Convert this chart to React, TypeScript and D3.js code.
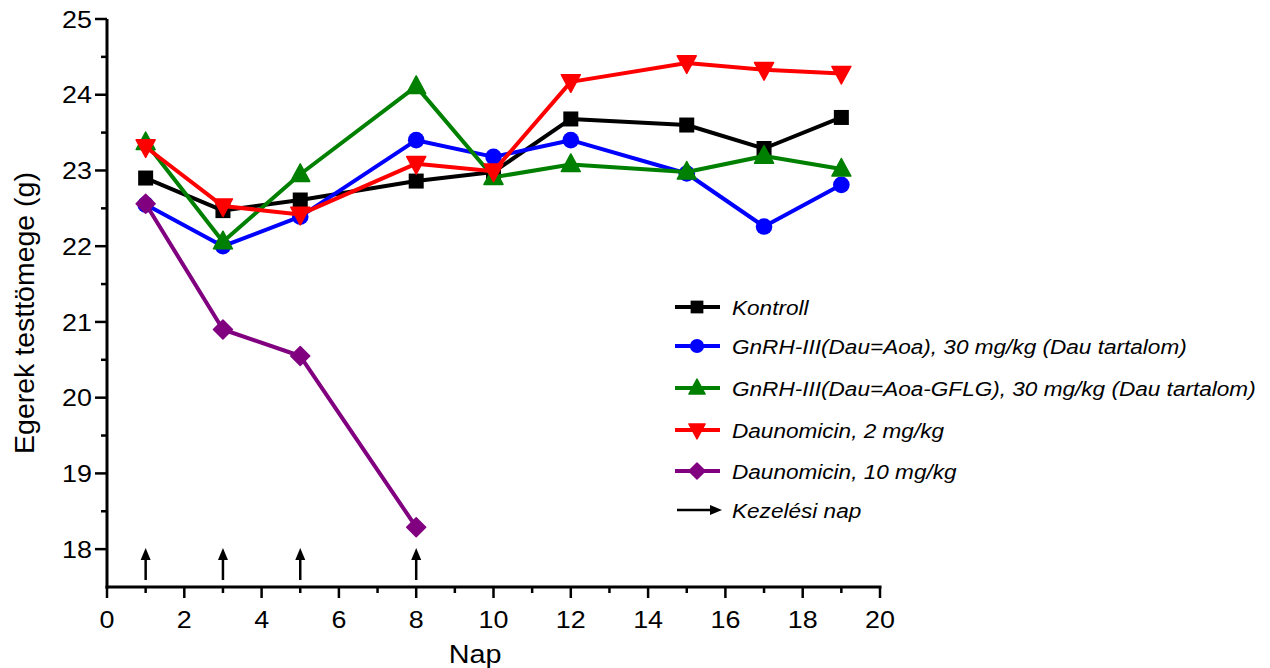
import React from "react";
import * as d3 from "d3";

const days = [1, 3, 5, 8, 10, 12, 15, 17, 19];
const kontroll = [22.9, 22.47, 22.61, 22.86, 22.98, 23.68, 23.6, 23.29, 23.7];
const gnrhAoa = [22.55, 22.0, 22.39, 23.4, 23.18, 23.4, 22.96, 22.26, 22.81];
const gnrhGflg = [23.37, 22.06, 22.95, 24.11, 22.91, 23.08, 22.98, 23.19, 23.02];
const dau2 = [23.31, 22.53, 22.42, 23.09, 22.99, 24.17, 24.42, 24.33, 24.28];
const daysDau10 = [1, 3, 5, 8];
const dau10 = [22.56, 20.9, 20.55, 18.29];
const treatmentDays = [1, 3, 5, 8];
const xTicks = [0, 2, 4, 6, 8, 10, 12, 14, 16, 18, 20];
const yTicks = [18, 19, 20, 21, 22, 23, 24, 25];

type Series = { name: string; color: string; shape: string; xs: number[]; ys: number[] };
const series: Series[] = [
  { name: "Kontroll", color: "#000000", shape: "square", xs: days, ys: kontroll },
  { name: "GnRH-III(Dau=Aoa), 30 mg/kg (Dau tartalom)", color: "#0000ff", shape: "circle", xs: days, ys: gnrhAoa },
  { name: "GnRH-III(Dau=Aoa-GFLG), 30 mg/kg (Dau tartalom)", color: "#008000", shape: "up", xs: days, ys: gnrhGflg },
  { name: "Daunomicin, 2 mg/kg", color: "#ff0000", shape: "down", xs: days, ys: dau2 },
  { name: "Daunomicin, 10 mg/kg", color: "#800080", shape: "diamond", xs: daysDau10, ys: dau10 },
];

const x = d3.scaleLinear().domain([0, 20]).range([107, 880]);
const y = d3.scaleLinear().domain([17.5, 25]).range([587, 19]);

function Marker({ shape, cx, cy, color, s = 1 }: { shape: string; cx: number; cy: number; color: string; s?: number }) {
  if (shape === "square") return <rect x={cx - 7.5 * s} y={cy - 7.5 * s} width={15 * s} height={15 * s} fill={color} />;
  if (shape === "circle") return <circle cx={cx} cy={cy} r={8.3 * s} fill={color} />;
  if (shape === "up") {
    const h = 9.5 * s;
    return <path d={`M${cx},${cy - h * 1.1} L${cx + h},${cy + h * 0.75} L${cx - h},${cy + h * 0.75} Z`} fill={color} stroke={color} strokeWidth={1.5} strokeLinejoin="round" />;
  }
  if (shape === "down") {
    const h = 9.5 * s;
    return <path d={`M${cx},${cy + h * 1.1} L${cx + h},${cy - h * 0.75} L${cx - h},${cy - h * 0.75} Z`} fill={color} stroke={color} strokeWidth={1.5} strokeLinejoin="round" />;
  }
  const r = 9.5 * s;
  return <path d={`M${cx},${cy - r} L${cx + r},${cy} L${cx},${cy + r} L${cx - r},${cy} Z`} fill={color} stroke={color} strokeWidth={1.5} strokeLinejoin="round" />;
}

function SText({ x0, y0, size, anchor = "start", italic = false, sx = 1.12, children }: any) {
  return (
    <g transform={`translate(${x0},${y0}) scale(${sx},1)`}>
      <text x={0} y={0} dy="0.36em" textAnchor={anchor} fontSize={size} fontStyle={italic ? "italic" : "normal"}>{children}</text>
    </g>
  );
}

export default function App() {
  const line = d3.line<[number, number]>().x((d) => x(d[0])).y((d) => y(d[1]));
  const font = "'Liberation Sans', Arial, Helvetica, sans-serif";
  const minorX = d3.range(1, 20, 2);
  const minorY = d3.range(18.5, 25, 1);
  const legendY = [307, 346, 388, 430, 471];
  return (
    <svg width={1270} height={668} style={{ position: "absolute", left: 0, top: 0, background: "#fff" }} fontFamily={font}>
      <line x1={x(0)} x2={x(0)} y1={y(25)} y2={y(17.5) + 1.5} stroke="#000" strokeWidth={3} />
      <line x1={x(0) - 1.5} x2={x(20) + 1.5} y1={y(17.5)} y2={y(17.5)} stroke="#000" strokeWidth={3} />
      {yTicks.map((t) => (
        <g key={"yt" + t}>
          <line x1={x(0) - 12} x2={x(0)} y1={y(t)} y2={y(t)} stroke="#000" strokeWidth={2.5} />
          <SText x0={92} y0={y(t)} size={24} anchor="end">{t}</SText>
        </g>
      ))}
      {minorY.map((t) => (
        <line key={"ym" + t} x1={x(0) - 6} x2={x(0)} y1={y(t)} y2={y(t)} stroke="#000" strokeWidth={2.5} />
      ))}
      {xTicks.map((t) => (
        <g key={"xt" + t}>
          <line x1={x(t)} x2={x(t)} y1={y(17.5)} y2={y(17.5) + 11} stroke="#000" strokeWidth={2.5} />
          <SText x0={x(t)} y0={619} size={24} anchor="middle">{t}</SText>
        </g>
      ))}
      {minorX.map((t) => (
        <line key={"xm" + t} x1={x(t)} x2={x(t)} y1={y(17.5)} y2={y(17.5) + 6} stroke="#000" strokeWidth={2.5} />
      ))}
      <SText x0={475} y0={654} size={25} anchor="middle" sx={1.15}>Nap</SText>
      <g transform={`translate(24,313) scale(0.97,1) rotate(-90)`}>
        <text x={0} y={0} dy="0.36em" textAnchor="middle" fontSize={28.5}>Egerek testtömege (g)</text>
      </g>

      {treatmentDays.map((d) => (
        <g key={"ar" + d}>
          <line x1={x(d)} x2={x(d)} y1={580} y2={556} stroke="#000" strokeWidth={2.5} />
          <path d={`M${x(d)},${548} L${x(d) + 5},${560} L${x(d) - 5},${560} Z`} fill="#000" />
        </g>
      ))}

      {series.map((s) => {
        const pts = s.xs.map((v, i) => [v, s.ys[i]] as [number, number]);
        return (
          <g key={s.name}>
            <path d={line(pts) || ""} fill="none" stroke={s.color} strokeWidth={4} strokeLinejoin="round" />
            {pts.map((p, i) => (
              <Marker key={i} shape={s.shape} cx={x(p[0])} cy={y(p[1])} color={s.color} />
            ))}
          </g>
        );
      })}

      {series.map((s, i) => (
        <g key={"lg" + i}>
          <line x1={675} x2={720} y1={legendY[i]} y2={legendY[i]} stroke={s.color} strokeWidth={4} />
          <Marker shape={s.shape} cx={697} cy={legendY[i]} color={s.color} s={0.85} />
          <SText x0={732} y0={legendY[i]} size={21} italic sx={1.075}>{s.name}</SText>
        </g>
      ))}
      <line x1={677} x2={712} y1={510} y2={510} stroke="#000" strokeWidth={2.5} />
      <path d={`M722,510 L710,505 L710,515 Z`} fill="#000" />
      <SText x0={732} y0={510} size={21} italic sx={1.075}>Kezelési nap</SText>
    </svg>
  );
}
